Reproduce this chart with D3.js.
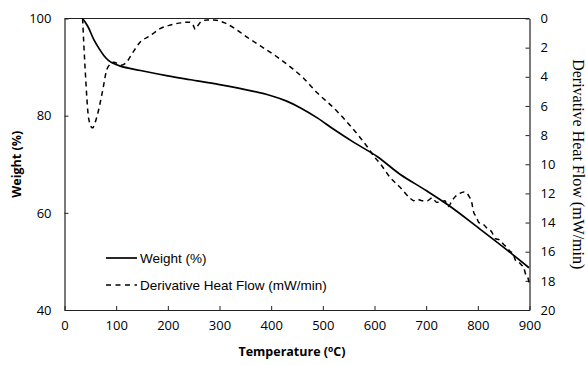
<!DOCTYPE html>
<html>
<head>
<meta charset="utf-8">
<script src="https://cdn.jsdelivr.net/npm/d3@7"></script>
<style>
  body { margin: 0; background: #fff; }
  svg text { fill: #000; }
</style>
</head>
<body>
<div id="chart"></div>
<script>
// Temperature (C) and weight (%) for the TGA curve
var weightTemp = [35, 45, 57, 67, 76, 85, 92, 108, 147, 200, 244, 300, 366, 400, 430, 457, 490, 521, 560, 605, 650, 700, 744, 800, 850, 899];
var weightVals = [100, 98.4, 95.6, 93.8, 92.4, 91.4, 90.9, 90.2, 89.3, 88.2, 87.4, 86.4, 85.0, 84.1, 83.0, 81.6, 79.5, 77.2, 74.5, 71.6, 67.9, 64.6, 61.5, 57.0, 52.9, 48.7];

// Temperature (C) and derivative heat flow (mW/min)
var dhfTemp = [35, 40, 47, 54, 63, 73, 83, 95, 110, 120, 131, 147, 165, 185, 205, 225, 242, 249, 253, 258, 265, 276, 290, 310, 330, 354, 380, 412, 440, 460, 489, 520, 554, 586, 600, 612, 630, 650, 668, 676, 683, 692, 702, 712, 720, 728, 736, 743, 750, 757, 765, 773, 783, 788, 792, 797, 802, 810, 818, 826, 834, 842, 850, 856, 863, 868, 873, 879, 884, 889, 893, 896, 899];
var dhfVals = [0, 3.5, 6.9, 7.5, 6.7, 5.1, 3.4, 3.0, 3.2, 3.0, 2.4, 1.6, 1.2, 0.7, 0.45, 0.3, 0.25, 0.45, 0.75, 0.5, 0.2, 0.1, 0.1, 0.3, 0.7, 1.3, 1.9, 2.65, 3.4, 4.0, 5.1, 6.1, 7.4, 8.8, 9.5, 10.0, 10.9, 11.6, 12.3, 12.5, 12.4, 12.5, 12.5, 12.3, 12.6, 12.6, 12.5, 12.9, 12.5, 12.2, 12.0, 11.9, 12.2, 12.6, 13.3, 13.6, 14.0, 14.1, 14.4, 14.6, 15.1, 15.2, 15.5, 15.7, 16.0, 16.1, 16.6, 16.7, 16.9, 17.1, 17.6, 17.7, 18.1];

var xTicks = [0, 100, 200, 300, 400, 500, 600, 700, 800, 900];
var yLeftTicks = [40, 60, 80, 100];
var yRightTicks = [0, 2, 4, 6, 8, 10, 12, 14, 16, 18, 20];

var W = 586, H = 365;
var margin = {top: 18.5, right: 56.5, bottom: 55, left: 64.5};
var width = W - margin.left - margin.right,
    height = H - margin.top - margin.bottom;

var svg = d3.select("#chart").append("svg")
    .attr("width", W).attr("height", H);
var g = svg.append("g")
    .attr("transform", "translate(" + margin.left + "," + margin.top + ")");

var x = d3.scaleLinear().domain([0, 900]).range([0, width]);
var yL = d3.scaleLinear().domain([40, 100]).range([height, 0]);
var yR = d3.scaleLinear().domain([0, 20]).range([0, height]);

var tickFont = "'Open Sans', 'Noto Sans', sans-serif";
var axisColor = "#222";

// axes with inside ticks
var xAxis = d3.axisBottom(x).tickValues(xTicks).tickSizeInner(-4).tickSizeOuter(0).tickPadding(11);
var yAxisL = d3.axisLeft(yL).tickValues(yLeftTicks).tickSizeInner(-4).tickSizeOuter(0).tickPadding(13);
var yAxisR = d3.axisRight(yR).tickValues(yRightTicks).tickSizeInner(-4).tickSizeOuter(0).tickPadding(11);

function styleAxis(sel) {
  sel.select(".domain").attr("stroke", axisColor).attr("stroke-width", 1.2);
  sel.selectAll(".tick line").attr("stroke", axisColor);
  sel.selectAll(".tick text").style("font-family", tickFont).style("font-size", "13px").attr("fill", "#111");
}

g.append("g").attr("transform", "translate(0," + height + ")").call(xAxis).call(styleAxis);
g.append("g").call(yAxisL).call(styleAxis);
g.append("g").attr("transform", "translate(" + width + ",0)").call(yAxisR).call(styleAxis);

// top border line
g.append("line").attr("x1", 0).attr("x2", width).attr("y1", 0).attr("y2", 0)
  .attr("stroke", axisColor).attr("stroke-width", 1.2);

// series
var weightData = weightTemp.map(function(t, i) { return {t: t, v: weightVals[i]}; });
var dhfData = dhfTemp.map(function(t, i) { return {t: t, v: dhfVals[i]}; });

var weightLine = d3.line().x(function(d) { return x(d.t); }).y(function(d) { return yL(d.v); })
  .curve(d3.curveCatmullRom.alpha(0.5));
var dhfLine = d3.line().x(function(d) { return x(d.t); }).y(function(d) { return yR(d.v); })
  .curve(d3.curveMonotoneX);

g.append("path").datum(dhfData).attr("d", dhfLine)
  .attr("fill", "none").attr("stroke", "#000").attr("stroke-width", 1.5)
  .attr("stroke-dasharray", "5,4");
g.append("path").datum(weightData).attr("d", weightLine)
  .attr("fill", "none").attr("stroke", "#000").attr("stroke-width", 1.7);

// legend
var legendFont = "'Liberation Sans', Arial, sans-serif";
var leg = svg.append("g");
leg.append("line").attr("x1", 106).attr("x2", 137).attr("y1", 258).attr("y2", 258)
  .attr("stroke", "#000").attr("stroke-width", 1.7);
leg.append("text").attr("x", 140).attr("y", 262.5).text("Weight (%)")
  .style("font-family", legendFont).style("font-size", "13.5px");
leg.append("line").attr("x1", 106).attr("x2", 137).attr("y1", 285).attr("y2", 285)
  .attr("stroke", "#000").attr("stroke-width", 1.5).attr("stroke-dasharray", "5,4.5");
leg.append("text").attr("x", 140).attr("y", 289.5).text("Derivative Heat Flow (mW/min)")
  .style("font-family", legendFont).style("font-size", "13.5px");

// axis titles
var xt = svg.append("text").attr("x", 292).attr("y", 356).attr("text-anchor", "middle")
  .style("font-family", tickFont).style("font-size", "12.5px").style("font-weight", "bold");
xt.append("tspan").text("Temperature (");
xt.append("tspan").text("o").attr("dy", -4).style("font-size", "8.5px");
xt.append("tspan").text("C)").attr("dy", 4);

svg.append("text")
  .attr("transform", "translate(21," + (margin.top + height / 2) + ") rotate(-90)")
  .attr("text-anchor", "middle").text("Weight (%)")
  .style("font-family", tickFont).style("font-size", "12.5px").style("font-weight", "bold");

svg.append("text")
  .attr("transform", "translate(573," + (margin.top + height / 2) + ") rotate(90)")
  .attr("text-anchor", "middle").text("Derivative Heat Flow (mW/min)")
  .style("font-family", "'Liberation Serif', 'Times New Roman', serif").style("font-size", "16px");
</script>
</body>
</html>
